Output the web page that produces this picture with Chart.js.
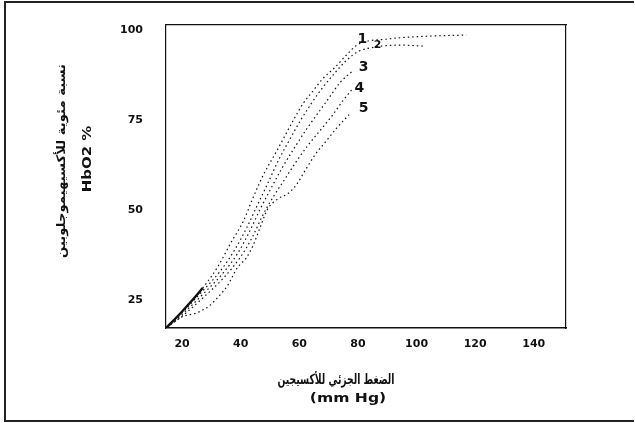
<!DOCTYPE html>
<html>
<head>
<meta charset="utf-8">
<script src="https://cdn.jsdelivr.net/npm/chart.js@4/dist/chart.umd.min.js"></script>
<style>
  html, body { margin: 0; padding: 0; background: #fff; }
  #wrap { position: relative; width: 635px; height: 423px; }
</style>
</head>
<body>
<div id="wrap"><canvas id="curves" width="635" height="423"></canvas></div>
<script>
// tick labels
const xTicks = [20, 40, 60, 80, 100, 120, 140];
const yTicks = [25, 50, 75, 100];

// curve names (drawn near the upper end of each curve)
const curveNames = ["1", "2", "3", "4", "5"];

// partial pressure of O2 (mm Hg) and HbO2 %
const curve1X = [14.5, 20, 27, 32, 37, 40.8, 44, 47.7, 52.5, 58, 61.4, 64.4, 68, 72, 76, 80, 90, 104, 117];
const curve1Y = [17.2, 21.8, 28.3, 34, 41.4, 46.7, 53, 59.7, 66.7, 75, 79.7, 82.8, 86.5, 89.5, 93, 96, 97.5, 98.3, 98.6];

const curve2X = [14.5, 20, 27, 33, 38, 42, 45.5, 49, 53, 57, 60.5, 64, 67.5, 71.5, 76, 80, 86, 95, 103];
const curve2Y = [17.2, 21.5, 27.5, 33, 39, 45, 51, 57, 64, 70, 75, 79.5, 83.5, 87.5, 91.5, 94, 95.3, 95.8, 95.5];

const curve3X = [14.5, 20, 27, 34, 39, 43, 46.5, 50, 54, 58.5, 62.5, 66, 70, 74, 78];
const curve3Y = [17.2, 21, 26.5, 32.5, 38, 44, 50, 55.5, 61.5, 67.5, 72.5, 76.5, 81, 85.5, 88.5];

const curve4X = [14.5, 20, 27, 34, 40, 44, 47.5, 51, 55, 59, 63, 67, 71, 75, 78];
const curve4Y = [17.2, 20.5, 25.5, 31, 37, 42.5, 48.5, 53.5, 58.5, 63.5, 68, 72, 76, 80.5, 83.5];

const curve5X = [14.5, 20, 25, 29.2, 32.3, 35.5, 38.8, 41.9, 44.3, 46.7, 49, 52.5, 56, 59, 62, 65.5, 69, 73, 77];
const curve5Y = [17.2, 20.3, 21.4, 23.3, 25.8, 29, 33.9, 36.7, 40.3, 45.3, 50, 53, 54.5, 57, 61, 65.5, 69, 73, 76.5];

// where each curve number sits, in data units
const labelX = [81.5, 86.7, 81.9, 80.5, 81.9];
const labelY = [97.4, 95.8, 89.7, 83.9, 78.3];

const curvesX = [curve1X, curve2X, curve3X, curve4X, curve5X];
const curvesY = [curve1Y, curve2Y, curve3Y, curve4Y, curve5Y];

const tickFont = { family: "DejaVu Sans", size: 11, weight: "bold" };
const dots = [1.5, 3];

const datasets = curvesX.map((xs, k) => ({
  label: curveNames[k],
  data: xs.map((x, i) => ({ x: x, y: curvesY[k][i] })),
  borderColor: "#111",
  borderWidth: 1.2,
  borderDash: dots,
  borderDashOffset: k,
  pointRadius: 0,
  fill: false,
  cubicInterpolationMode: "monotone",
  // the first curve starts as a heavy solid stroke near the origin
  segment: k === 0 ? {
    borderDash: (c) => (c.p1DataIndex <= 2 ? [] : dots),
    borderWidth: (c) => (c.p1DataIndex <= 2 ? 2.4 : 1.2),
  } : {},
}));

function drawText(ctx, text, x, y, font, rot, sx) {
  ctx.save();
  ctx.translate(x, y);
  ctx.rotate(rot);
  ctx.scale(sx, 1);
  ctx.font = font;
  ctx.fillText(text, 0, 0);
  ctx.restore();
}

// fixed plot box: the vertical axes must not push the chart area down
function fixWidth(w) {
  return (s) => {
    s.width = w;
    s.paddingTop = 0;
    s.paddingBottom = 0;
  };
}

// axis titles, curve numbers and the outer frame
const extras = {
  id: "extras",
  afterDraw(chart) {
    const ctx = chart.ctx;
    const xs = chart.scales.x;
    const ys = chart.scales.y;
    ctx.save();

    ctx.strokeStyle = "#222";
    ctx.lineWidth = 2;
    ctx.beginPath();
    ctx.moveTo(634, 2);
    ctx.lineTo(5, 2);
    ctx.lineTo(5, 421);
    ctx.lineTo(634, 421);
    ctx.stroke();

    ctx.fillStyle = "#111";
    ctx.textAlign = "center";
    ctx.textBaseline = "middle";

    drawText(ctx, "الضغط الجزئي للأكسيجين", 336, 380, "bold 14px 'DejaVu Sans'", 0, 0.66);
    drawText(ctx, "(mm Hg)", 348, 399, "bold 12px 'DejaVu Sans'", 0, 1.3);
    drawText(ctx, "نسبة مئوية للأكسيهيموجلوبين", 62, 161, "bold 12px 'DejaVu Sans'", -Math.PI / 2, 1.1);
    drawText(ctx, "HbO2 %", 88, 159, "bold 13px 'DejaVu Sans'", -Math.PI / 2, 1.15);

    curveNames.forEach((name, k) => {
      const font = k === 1 ? "bold 11px 'DejaVu Sans'" : "bold 14px 'DejaVu Sans'";
      drawText(ctx, name, xs.getPixelForValue(labelX[k]), ys.getPixelForValue(labelY[k]), font, 0, 1);
    });

    ctx.restore();
  },
};

new Chart(document.getElementById("curves"), {
  type: "line",
  data: { datasets: datasets },
  options: {
    responsive: false,
    animation: false,
    layout: { padding: 0, autoPadding: false },
    plugins: { legend: { display: false }, tooltip: { enabled: false } },
    scales: {
      x: {
        type: "linear",
        position: "bottom",
        min: 14.5,
        max: 151,
        afterBuildTicks: (s) => { s.ticks = xTicks.map((v) => ({ value: v })); },
        afterFit: (s) => { s.height = 95; },
        grid: { display: false, drawTicks: false },
        border: { display: true, color: "#111", width: 1.4, dash: [9, 4] },
        ticks: { font: tickFont, color: "#111", padding: 10, maxRotation: 0, autoSkip: false },
      },
      xTop: {
        type: "linear",
        position: "top",
        min: 14.5,
        max: 151,
        afterFit: (s) => { s.height = 25; },
        grid: { display: false, drawTicks: false },
        border: { display: true, color: "#111", width: 1.3 },
        ticks: { display: false },
      },
      y: {
        type: "linear",
        position: "left",
        min: 17.2,
        max: 101.4,
        afterBuildTicks: (s) => { s.ticks = yTicks.map((v) => ({ value: v })); },
        afterFit: fixWidth(166),
        grid: { display: false, drawTicks: false },
        border: { display: true, color: "#111", width: 1.2, dash: [2, 4] },
        ticks: { font: tickFont, color: "#111", padding: 23, autoSkip: false },
      },
      yRight: {
        type: "linear",
        position: "right",
        min: 17.2,
        max: 101.4,
        afterFit: fixWidth(69),
        grid: { display: false, drawTicks: false },
        border: { display: true, color: "#111", width: 1.2, dash: [3, 5] },
        ticks: { display: false },
      },
    },
  },
  plugins: [extras],
});
</script>
</body>
</html>
